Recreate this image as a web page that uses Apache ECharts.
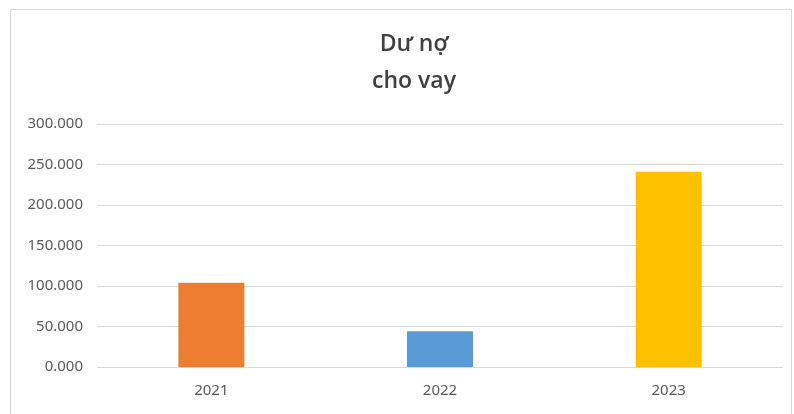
<!DOCTYPE html>
<html>
<head>
    <meta charset="UTF-8"/>
    <script type="text/javascript" src="https://cdn.jsdelivr.net/npm/echarts@6/dist/echarts.min.js"></script>
    <title>Dư nợ cho vay</title>
    <style>
        html, body { margin: 0; padding: 0; background: #fff; }
        #main { width: 794px; height: 414px; }
    </style>
</head>
<body>
<div id="main"></div>
<script type="text/javascript">
    var years = ['2021', '2022', '2023']
    var duNo = [104000, 44000, 241000]
    var barColors = ['#ED7D31', '#5B9BD5', '#FFC000']
    var yTicks = [0, 50000, 100000, 150000, 200000, 250000, 300000]

    function fmt(v) {
        // 300000 -> 300.000, 0 -> 0.000
        if (v === 0) return '0.000'
        return String(Math.round(v)).replace(/\B(?=(\d{3})+(?!\d))/g, '.')
    }

    var myChart = echarts.init(document.getElementById('main'))
    var option = {
        animation: false,
        backgroundColor: '#fff',
        graphic: [{
            type: 'rect',
            shape: {x: 10.5, y: 9.5, width: 781, height: 420},
            style: {fill: 'none', stroke: '#d9d9d9', lineWidth: 1},
            silent: true
        }],
        title: {
            text: 'Dư nợ\ncho vay',
            left: 409,
            textAlign: 'center',
            top: 21,
            textStyle: {
                fontFamily: 'Open Sans',
                fontWeight: 600,
                fontSize: 23,
                lineHeight: 37,
                color: '#404040'
            }
        },
        grid: {left: 97, right: 11, top: 124, bottom: 47},
        xAxis: {
            type: 'category',
            data: years,
            axisLine: {show: false},
            axisTick: {show: false},
            axisLabel: {
                margin: 16,
                color: '#595959',
                fontFamily: 'Noto Sans',
                fontSize: 15
            }
        },
        yAxis: {
            type: 'value',
            min: yTicks[0],
            max: yTicks[yTicks.length - 1],
            interval: yTicks[1] - yTicks[0],
            axisLine: {show: false},
            axisTick: {show: false},
            splitLine: {lineStyle: {color: '#d9d9d9', width: 1}},
            axisLabel: {
                margin: 14,
                color: '#595959',
                fontFamily: 'Noto Sans',
                fontSize: 15,
                formatter: fmt
            }
        },
        series: [{
            type: 'bar',
            barWidth: 66,
            data: duNo.map(function (v, i) {
                return {value: v, itemStyle: {color: barColors[i]}}
            })
        }]
    }
    myChart.setOption(option)
</script>
</body>
</html>
